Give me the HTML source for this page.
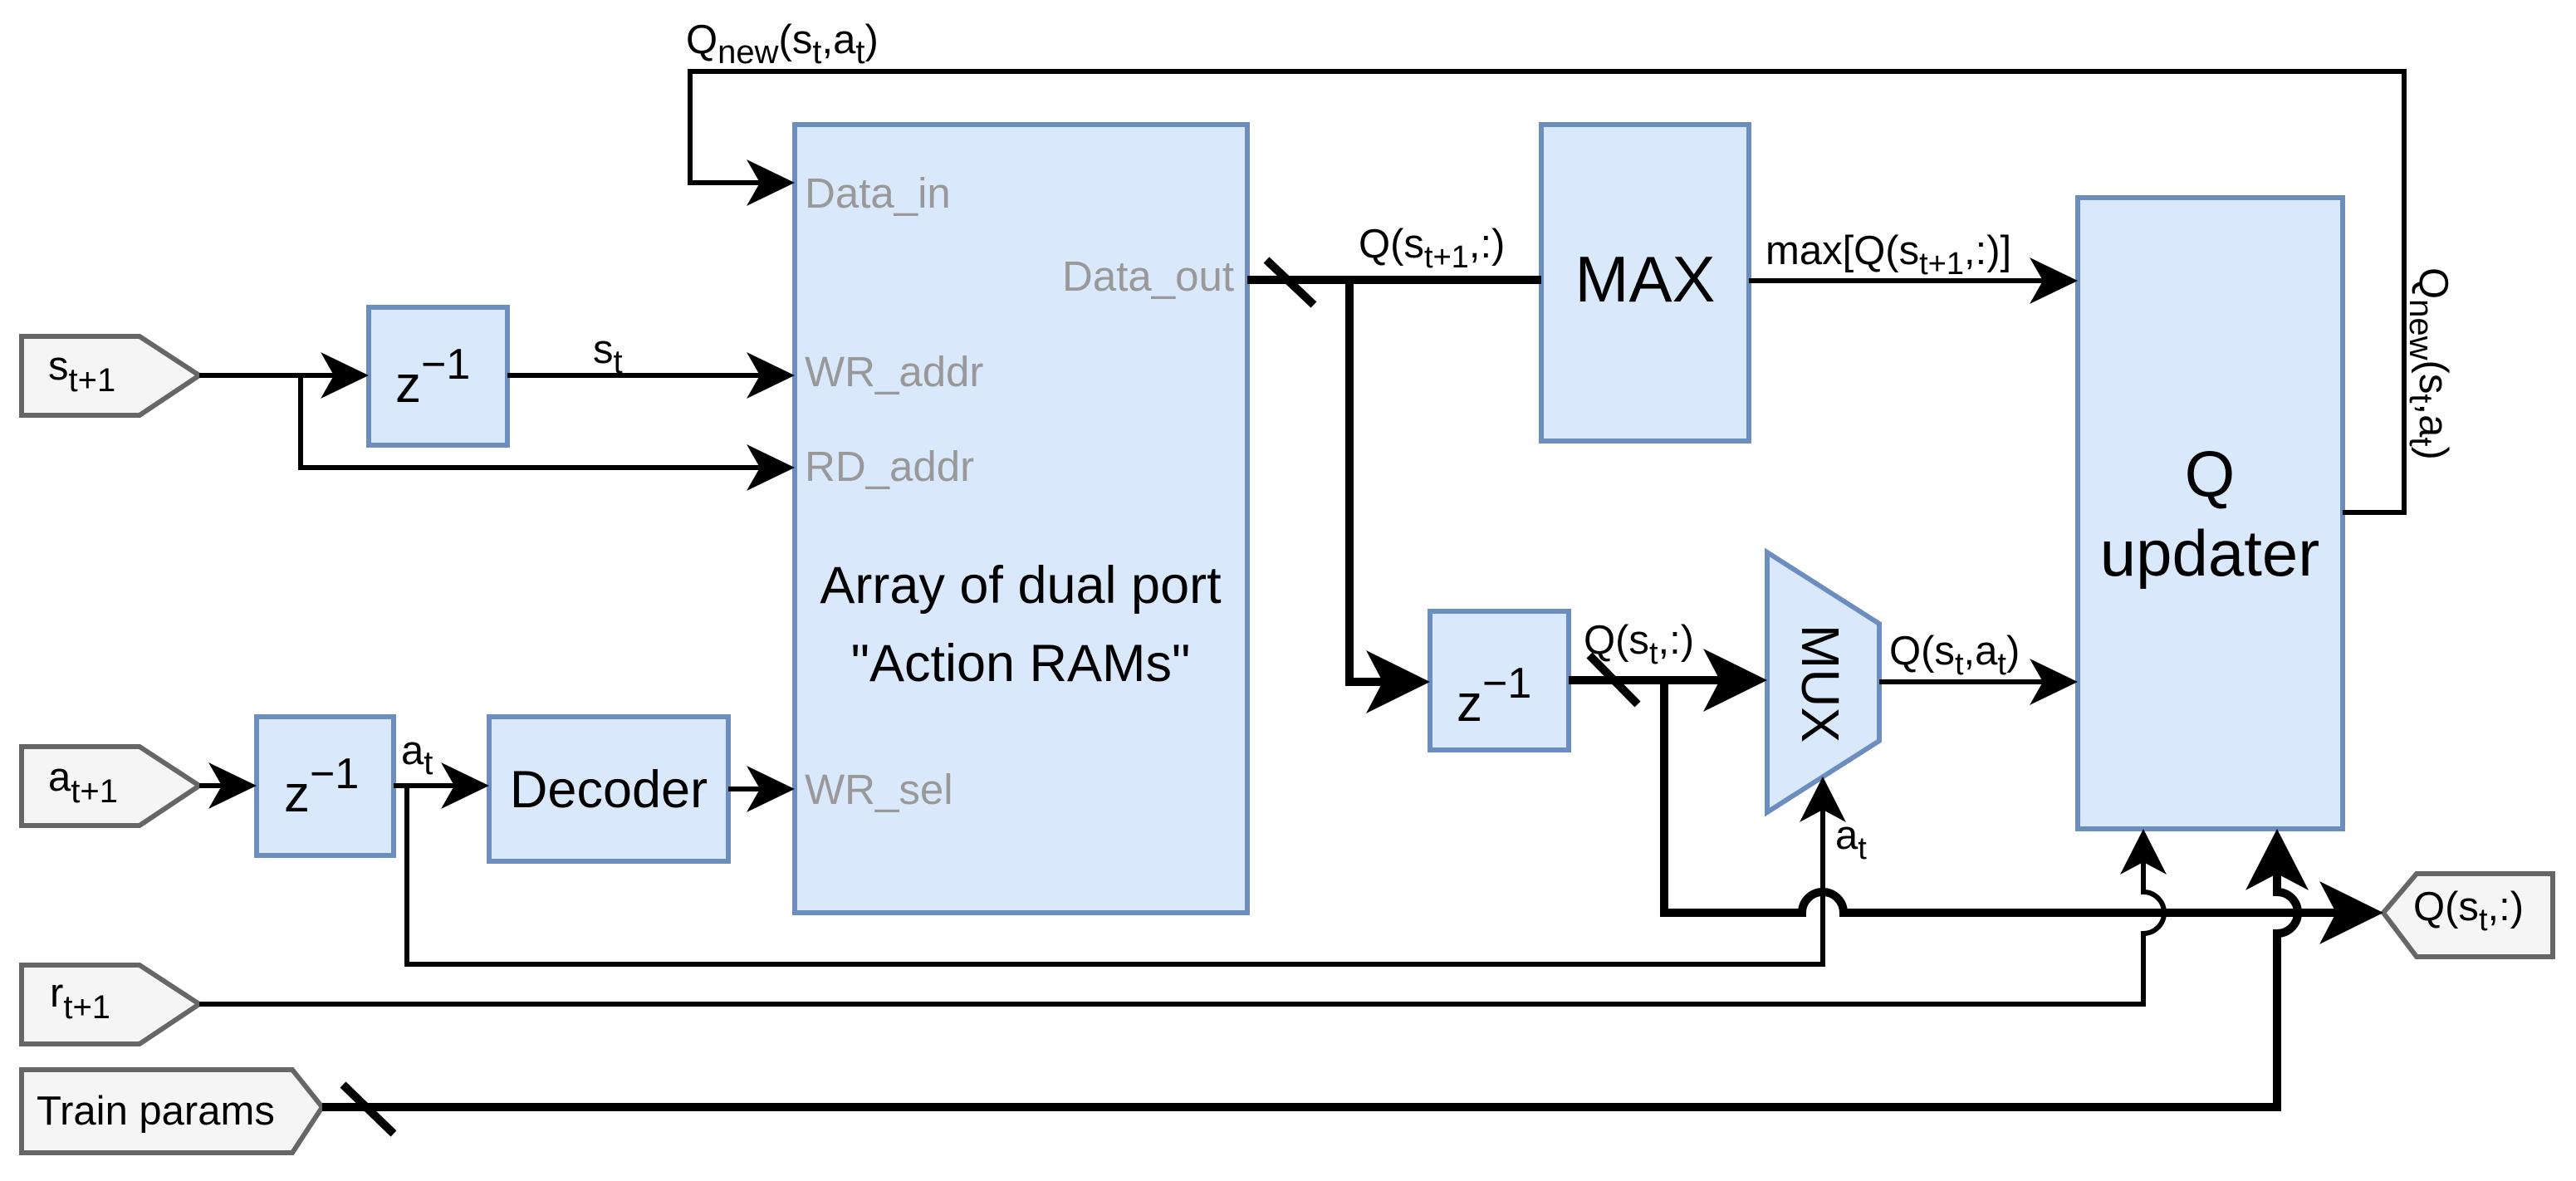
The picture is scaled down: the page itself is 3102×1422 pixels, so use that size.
<!DOCTYPE html>
<html><head><meta charset="utf-8"><style>
html,body{margin:0;padding:0;background:#fff}
svg{display:block}
text{font-family:"Liberation Sans",sans-serif}
</style></head><body>
<svg width="3102" height="1422" viewBox="0 0 3102 1422" xmlns="http://www.w3.org/2000/svg">
<g fill="#dae8fc" stroke="#6c8ebf" stroke-width="6">
<rect x="957" y="150" width="545" height="949"/>
<rect x="444" y="370" width="167" height="166"/>
<rect x="309" y="863" width="165" height="167"/>
<rect x="589" y="863" width="288" height="174"/>
<rect x="1856" y="150" width="250" height="381"/>
<rect x="1722" y="736" width="167" height="167"/>
<rect x="2502" y="238" width="319" height="760"/>
<polygon points="2128,665 2263,751 2263,892 2128,978"/>
</g>
<g fill="#f5f5f5" stroke="#666" stroke-width="6">
<polygon points="26,405 168,405 240,452 168,500 26,500"/>
<polygon points="26,899 168,899 240,946 168,994 26,994"/>
<polygon points="26,1162 168,1162 240,1209 168,1257 26,1257"/>
<polygon points="26,1288 352,1288 388,1333 352,1388 26,1388"/>
<polygon points="3074,1052 2910,1052 2870,1099 2910,1152 3074,1152"/>
</g>
<g fill="none" stroke="#000" stroke-width="6">
<polyline points="2821,617 2895,617 2895,86 831,86 831,220 930,220"/>
<polyline points="240,452 420,452"/>
<polyline points="362,452 362,563 930,563"/>
<polyline points="611,452 930,452"/>
<polyline points="240,946 285,946"/>
<polyline points="474,946 565,946"/>
<polyline points="877,950 930,950"/>
<polyline points="490,946 490,1161 2195,1161 2195,960"/>
<path d="M240,1209 L2581,1209 L2581,1124 A25,25 0 0 0 2581,1074 L2581,1022"/>
<polyline points="2106,338 2478,338"/>
<polyline points="2263,821 2478,821"/>
</g>
<g fill="none" stroke="#000" stroke-width="10">
<path d="M388,1333 L2742,1333 L2742,1124 A25,25 0 0 0 2742,1074 L2742,1030"/>
<polyline points="1502,337 1856,337"/>
<polyline points="1625,337 1625,821 1690,821"/>
<polyline points="1889,819 2095,819"/>
<path d="M2004,819 L2004,1099 L2170,1099 A25,25 0 0 1 2220,1099 L2835,1099"/>
<line x1="1525" y1="313" x2="1582" y2="367"/>
<line x1="1914" y1="789" x2="1972" y2="848"/>
<line x1="413" y1="1306" x2="474" y2="1365"/>
</g>
<g fill="#000">
<polygon points="957,220 899,192 915,220 899,248"/>
<polygon points="444,452 386,424 402,452 386,480"/>
<polygon points="957,563 899,535 915,563 899,591"/>
<polygon points="957,452 899,424 915,452 899,480"/>
<polygon points="309,946 251,918 267,946 251,974"/>
<polygon points="589,946 531,918 547,946 531,974"/>
<polygon points="957,950 899,922 915,950 899,978"/>
<polygon points="2195,935 2167,990 2195,975 2223,990"/>
<polygon points="2581,998 2553,1053 2581,1038 2609,1053"/>
<polygon points="2502,338 2444,310 2460,338 2444,366"/>
<polygon points="2502,821 2444,793 2460,821 2444,849"/>
<polygon points="1722,821 1645,783 1665,821 1645,859"/>
<polygon points="2128,819 2051,781 2071,819 2051,857"/>
<polygon points="2870,1099 2793,1061 2813,1099 2793,1137"/>
<polygon points="2742,998 2704,1072 2742,1052 2780,1072"/>
</g>
<g font-size="51" fill="#999">
<text x="969" y="250">Data_in</text>
<text x="1486" y="350" text-anchor="end">Data_out</text>
<text x="969" y="465">WR_addr</text>
<text x="969" y="579">RD_addr</text>
<text x="969" y="968">WR_sel</text>
</g>
<g fill="#000" font-size="63" text-anchor="middle">
<text x="1229" y="726">Array of dual port</text>
<text x="1229" y="820">"Action RAMs"</text>
<text x="733" y="972">Decoder</text>
</g>
<g fill="#000" font-size="78" text-anchor="middle">
<text x="1981" y="363">MAX</text>
<text x="2661" y="598">Q</text>
<text x="2661" y="693">updater</text>
<text transform="translate(2195,823) rotate(90)" y="25" font-size="64">MUX</text>
</g>
<g fill="#000" font-size="62">
<text x="476" y="484">z<tspan dy="-28" font-size="52">−1</tspan></text>
<text x="342" y="977">z<tspan dy="-28" font-size="52">−1</tspan></text>
<text x="1754" y="868">z<tspan dy="-28" font-size="52">−1</tspan></text>
</g>
<g fill="#000" font-size="49">
<text x="58" y="457">s<tspan dy="14" font-size="40">t+1</tspan></text>
<text x="58" y="952">a<tspan dy="14" font-size="40">t+1</tspan></text>
<text x="60" y="1212">r<tspan dy="14" font-size="40">t+1</tspan></text>
<text x="44" y="1354">Train params</text>
<text x="2906" y="1108">Q(s<tspan dy="12" font-size="38">t</tspan><tspan dy="-12">,:)</tspan></text>
<text x="826" y="64">Q<tspan dy="12" font-size="40">new</tspan><tspan dy="-12">(s</tspan><tspan dy="12" font-size="40">t</tspan><tspan dy="-12">,a</tspan><tspan dy="12" font-size="40">t</tspan><tspan dy="-12">)</tspan></text>
<text x="714" y="437">s<tspan dy="12" font-size="40">t</tspan></text>
<text x="483" y="920">a<tspan dy="12" font-size="40">t</tspan></text>
<text x="1636" y="310">Q(s<tspan dy="12" font-size="38">t+1</tspan><tspan dy="-12">,:)</tspan></text>
<text x="2126" y="318">max[Q(s<tspan dy="12" font-size="38">t+1</tspan><tspan dy="-12">,:)]</tspan></text>
<text x="1907" y="787">Q(s<tspan dy="12" font-size="38">t</tspan><tspan dy="-12">,:)</tspan></text>
<text x="2275" y="800">Q(s<tspan dy="12" font-size="38">t</tspan><tspan dy="-12">,a</tspan><tspan dy="12" font-size="38">t</tspan><tspan dy="-12">)</tspan></text>
<text x="2210" y="1022">a<tspan dy="12" font-size="38">t</tspan></text>
<text transform="translate(2914,322) rotate(90)">Q<tspan dy="12" font-size="40">new</tspan><tspan dy="-12">(s</tspan><tspan dy="12" font-size="40">t</tspan><tspan dy="-12">,a</tspan><tspan dy="12" font-size="40">t</tspan><tspan dy="-12">)</tspan></text>
</g>
</svg>
</body></html>
